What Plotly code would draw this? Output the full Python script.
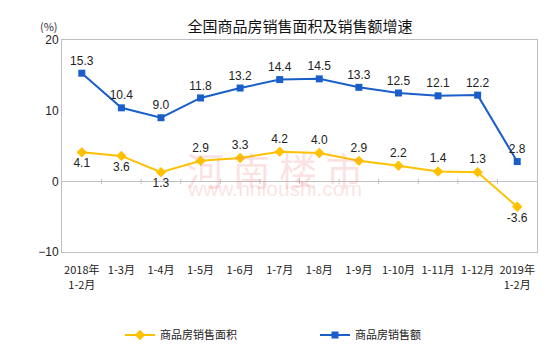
import plotly.graph_objects as go

categories = ["2018年<br>1-2月", "1-3月", "1-4月", "1-5月", "1-6月", "1-7月",
              "1-8月", "1-9月", "1-10月", "1-11月", "1-12月", "2019年<br>1-2月"]
area = [4.1, 3.6, 1.3, 2.9, 3.3, 4.2, 4.0, 2.9, 2.2, 1.4, 1.3, -3.6]
sales = [15.3, 10.4, 9.0, 11.8, 13.2, 14.4, 14.5, 13.3, 12.5, 12.1, 12.2, 2.8]
area_pos = ["bottom center", "bottom center", "bottom center", "top center", "top center",
            "top center", "top center", "top center", "top center", "top center",
            "top center", "bottom center"]

x = list(range(len(categories)))
font = "Noto Sans CJK SC, Liberation Sans, Arial"

fig = go.Figure()
fig.add_trace(go.Scatter(
    x=x, y=area, name="商品房销售面积", mode="lines+markers+text",
    line=dict(color="#FFC000", width=2),
    marker=dict(symbol="diamond", size=8, color="#FFC000"),
    text=[f"{v:.1f}" for v in area], textposition=area_pos,
    textfont=dict(size=12, color="#222", family="Liberation Sans, Arial"),
))
fig.add_trace(go.Scatter(
    x=x, y=sales, name="商品房销售额", mode="lines+markers+text",
    line=dict(color="#1A5FC9", width=2),
    marker=dict(symbol="square", size=7, color="#1A5FC9"),
    text=[f"{v:.1f}" for v in sales], textposition="top center",
    textfont=dict(size=12, color="#222", family="Liberation Sans, Arial"),
))

# watermark
fig.add_annotation(x=0.448, y=0.396, xref="paper", yref="paper", text="河 南 楼 市",
                   showarrow=False,
                   font=dict(size=38, color="rgba(240,140,140,0.25)", family=font))
fig.add_annotation(x=0.448, y=0.236, xref="paper", yref="paper", text="www.hnloushi.com",
                   showarrow=False,
                   font=dict(size=21, color="rgba(240,140,140,0.25)", family="Liberation Sans, Arial"))

fig.add_annotation(x=(38 - 62) / 475, y=(252 - 16) / 212, xref="paper", yref="paper", text="(%)",
                   showarrow=False, font=dict(size=11, color="#333", family=font))

fig.update_layout(
    width=550, height=355,
    margin=dict(l=62, r=13, t=40, b=103, autoexpand=False),
    paper_bgcolor="white", plot_bgcolor="white",
    title=dict(text="全国商品房销售面积及销售额增速", x=300 / 550, xanchor="center",
               y=1 - 27 / 355, yanchor="middle",
               font=dict(size=15, color="#111", family=font)),
    xaxis=dict(range=[-0.5, 11.5], tickmode="array", tickvals=x, ticktext=categories,
               showgrid=False, showline=True, mirror=True, linecolor="#BFBFBF", linewidth=1,
               zeroline=False, ticks="", ticklabelstandoff=8, automargin=False,
               tickfont=dict(size=11, color="#222", family=font)),
    yaxis=dict(range=[-10, 20], tickvals=[-10, 0, 10, 20], showgrid=False,
               showline=True, mirror=True, linecolor="#BFBFBF", linewidth=1,
               zeroline=True, zerolinecolor="#BFBFBF", zerolinewidth=1, automargin=False,
               tickfont=dict(size=12, color="#222", family="Liberation Sans, Arial")),
    legend=dict(orientation="h", x=(120 - 62) / 475, xanchor="left",
                y=(252 - 335) / 212, yanchor="middle",
                font=dict(size=11, color="#222", family=font),
                entrywidth=150, entrywidthmode="pixels", tracegroupgap=0),
    showlegend=True,
)

# tick marks on the zero line between categories
for b in [i + 0.5 for i in range(11)]:
    fig.add_shape(type="line", x0=b, x1=b, y0=0.35, y1=-0.35, xref="x", yref="y",
                  line=dict(color="#BFBFBF", width=1))

fig.write_html("out.html")
